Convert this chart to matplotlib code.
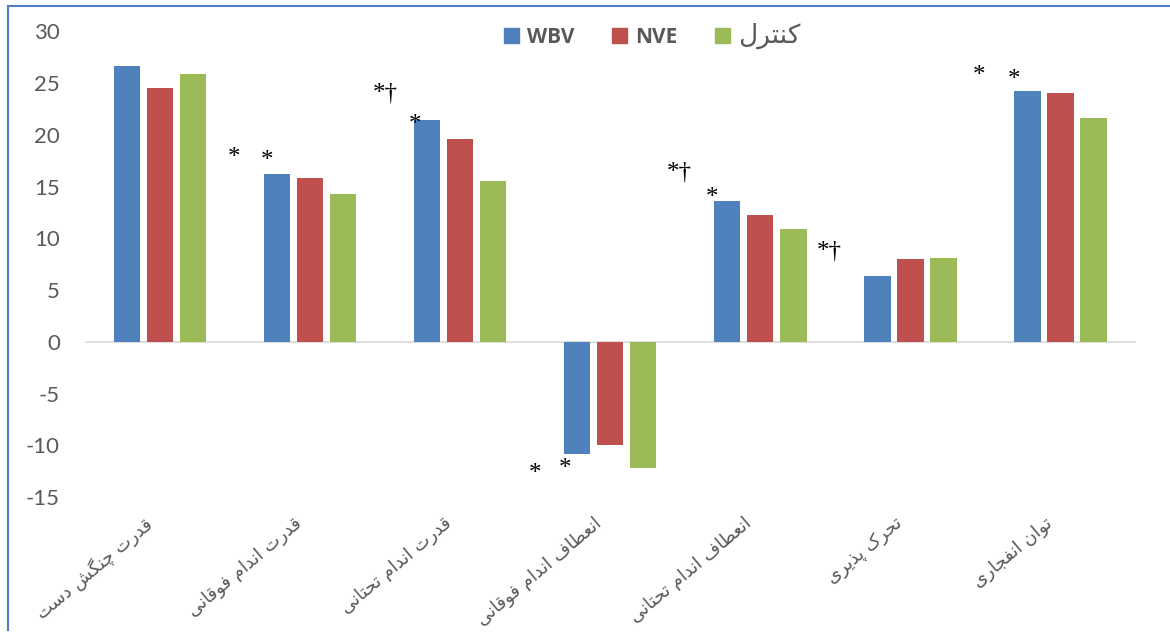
import matplotlib
matplotlib.use('Agg')
import matplotlib.pyplot as plt
import numpy as np
from matplotlib.lines import Line2D

plt.rcParams['axes.unicode_minus'] = False

# data
categories = ['قدرت چنگش دست', 'قدرت اندام فوقانی', 'قدرت اندام تحتانی',
              'انعطاف اندام فوقانی', 'انعطاف اندام تحتانی', 'تحرک پذیری', 'توان انفجاری']
series_names = ['WBV', 'NVE', 'کنترل']
wbv = [26.6, 16.2, 21.4, -10.8, 13.6, 6.4, 24.2]
nve = [24.5, 15.8, 19.6, -10.0, 12.2, 8.0, 24.0]
control = [25.9, 14.3, 15.5, -12.2, 10.9, 8.1, 21.6]
# significance marks: (category position, value, text)
marks = [(0.49, 17.8, '*'), (0.71, 17.5, '*'),
         (1.50, 24.0, '*†'), (1.70, 20.9, '*'),
         (2.50, -12.8, '*'), (2.70, -12.3, '*'),
         (3.46, 16.4, '*†'), (3.68, 13.9, '*'),
         (4.46, 8.7, '*†'),
         (5.46, 25.7, '*'), (5.69, 25.3, '*')]

COLORS = ['#4F81BD', '#C0504D', '#9BBB59']
TXT = '#595959'

# minimal persian shaping (matplotlib has no complex text layout)
FORMS = {
    'ا': ('\uFE8D', '\uFE8E', None, None), 'د': ('\uFEA9', '\uFEAA', None, None),
    'ذ': ('\uFEAB', '\uFEAC', None, None), 'ر': ('\uFEAD', '\uFEAE', None, None),
    'ز': ('\uFEAF', '\uFEB0', None, None), 'و': ('\uFEED', '\uFEEE', None, None),
    'ت': ('\uFE95', '\uFE96', '\uFE97', '\uFE98'), 'ج': ('\uFE9D', '\uFE9E', '\uFE9F', '\uFEA0'),
    'ح': ('\uFEA1', '\uFEA2', '\uFEA3', '\uFEA4'), 'س': ('\uFEB1', '\uFEB2', '\uFEB3', '\uFEB4'),
    'ش': ('\uFEB5', '\uFEB6', '\uFEB7', '\uFEB8'), 'ط': ('\uFEC1', '\uFEC2', '\uFEC3', '\uFEC4'),
    'ع': ('\uFEC9', '\uFECA', '\uFECB', '\uFECC'), 'ف': ('\uFED1', '\uFED2', '\uFED3', '\uFED4'),
    'ق': ('\uFED5', '\uFED6', '\uFED7', '\uFED8'), 'ل': ('\uFEDD', '\uFEDE', '\uFEDF', '\uFEE0'),
    'م': ('\uFEE1', '\uFEE2', '\uFEE3', '\uFEE4'), 'ن': ('\uFEE5', '\uFEE6', '\uFEE7', '\uFEE8'),
    'ی': ('\uFBFC', '\uFBFD', '\uFBFE', '\uFBFF'), 'پ': ('\uFB56', '\uFB57', '\uFB58', '\uFB59'),
    'چ': ('\uFB7A', '\uFB7B', '\uFB7C', '\uFB7D'), 'ک': ('\uFB8E', '\uFB8F', '\uFB90', '\uFB91'),
    'گ': ('\uFB92', '\uFB93', '\uFB94', '\uFB95'),
}


def shape(s):
    out = []
    for i, c in enumerate(s):
        if c not in FORMS:
            out.append(c)
            continue
        prev = s[i - 1] if i > 0 else ''
        nxt = s[i + 1] if i + 1 < len(s) else ''
        dual = FORMS[c][2] is not None
        cp = prev in FORMS and FORMS[prev][2] is not None
        cn = dual and nxt in FORMS
        if cp and cn:
            out.append(FORMS[c][3])
        elif cp:
            out.append(FORMS[c][1])
        elif cn:
            out.append(FORMS[c][2])
        else:
            out.append(FORMS[c][0])
    return ''.join(out)[::-1]


fig = plt.figure(figsize=(11.7, 6.38), dpi=100)
ax = fig.add_axes([0.0726, 0.221, 0.898, 0.730])

x = np.arange(len(categories))
w = 0.175
off = 0.22
for i, (vals, col) in enumerate(zip([wbv, nve, control], COLORS)):
    ax.bar(x + (i - 1) * off, vals, width=w, color=col, zorder=3)

ax.set_xlim(-0.5, len(categories) - 0.5)
ax.set_ylim(-15, 30)
ax.set_yticks(range(-15, 31, 5))
ax.tick_params(axis='y', length=0, labelsize=16, labelcolor=TXT, pad=18)
for t in ax.get_yticklabels():
    t.set_family('Lato')
ax.tick_params(axis='x', length=0)
ax.set_xticks(x)
ax.set_xticklabels([])
for s in ax.spines.values():
    s.set_visible(False)
ax.axhline(0, color='#D9D9D9', lw=1.2, zorder=2)

for i, lab in enumerate(categories):
    ax.annotate(shape(lab), xy=(i, -15), xycoords='data', xytext=(-12, -12),
                textcoords='offset points', rotation=40, ha='right', va='top',
                rotation_mode='anchor', fontsize=13, color=TXT, family='DejaVu Sans')

for xm, ym, t in marks:
    ax.text(xm, ym, t, ha='center', va='center', fontsize=18,
            family='Liberation Serif', color='black')

handles = [plt.Rectangle((0, 0), 1, 1, color=c) for c in COLORS]
leg = ax.legend(handles, ['WBV', 'NVE', shape('کنترل')], ncol=3, loc='center',
                bbox_to_anchor=(0.54, 0.99), frameon=False, fontsize=15,
                handlelength=0.7, handleheight=0.7, handletextpad=0.4, columnspacing=1.8)
for t in leg.get_texts():
    t.set_color(TXT)
    if t.get_text() in ('WBV', 'NVE'):
        t.set_fontweight('bold')
        t.set_family('Open Sans')
    else:
        t.set_fontsize(19)

# frame lines like the source image
fig.add_artist(Line2D([8 / 1170, 8 / 1170], [1 - 6 / 638, 8 / 638], color='#4F7EC8', lw=1.5))
fig.add_artist(Line2D([8 / 1170, 1.0], [1 - 6 / 638, 1 - 6 / 638], color='#4F7EC8', lw=1.5))

fig.savefig('out.png', dpi=100, facecolor='white')
